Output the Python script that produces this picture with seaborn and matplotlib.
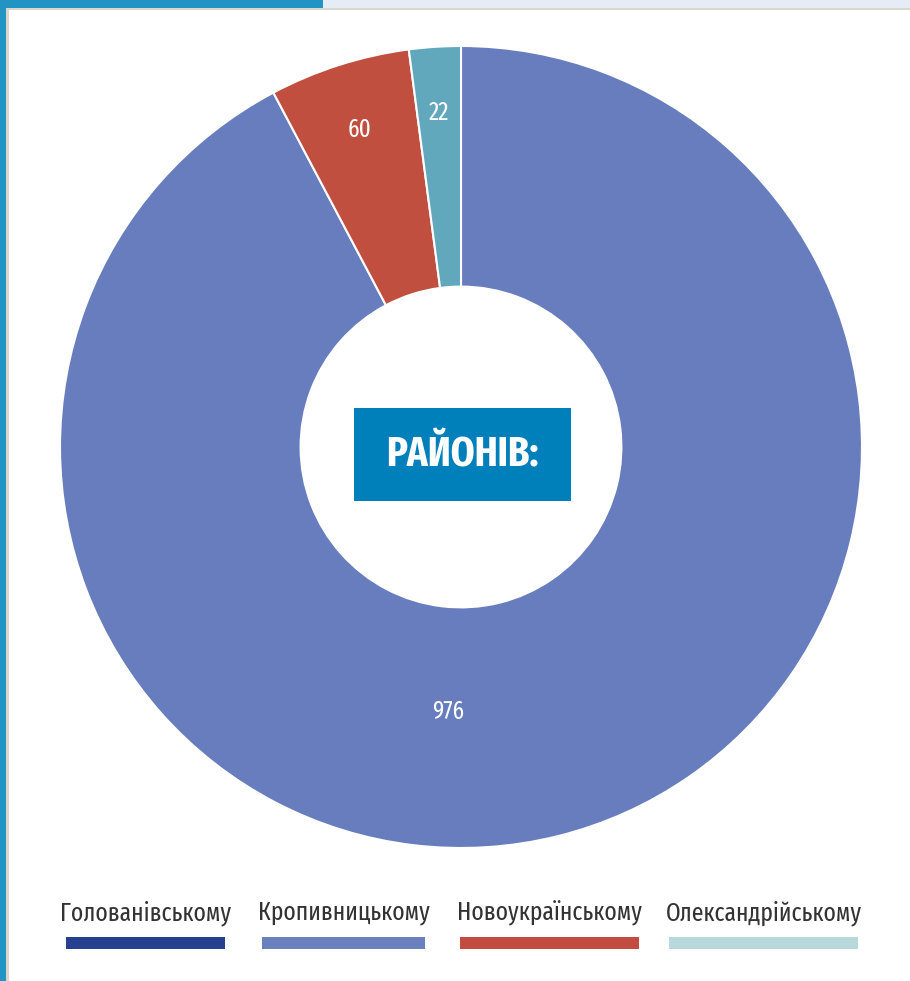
import numpy as np
import matplotlib
matplotlib.use("Agg")
import matplotlib.pyplot as plt
from matplotlib.patches import Rectangle
import seaborn as sns

districts = ["Голованівському", "Кропивницькому", "Новоукраїнському", "Олександрійському"]
values = [0, 976, 60, 22]
slice_colors = ["#26408f", "#687dbd", "#c14f3f", "#62a8bd"]
legend_colors = ["#26408f", "#6a80bd", "#c14c3f", "#b8d9dc"]
label_angles = [None, -92.8, None, None]  # degrees; None -> wedge middle
center_title = "РАЙОНІВ:"

sns.set_theme(style="white")
FONT = ['Fira Sans Extra Condensed', 'Roboto Condensed', 'DejaVu Sans']
plt.rcParams['font.family'] = FONT

W, H = 910, 981
fig = plt.figure(figsize=(W / 100, H / 100), dpi=100)
fig.patch.set_facecolor("white")

def px_rect(x0, y0, x1, y1, color, z=0):
    fig.patches.append(Rectangle((x0 / W, 1 - y1 / H), (x1 - x0) / W, (y1 - y0) / H,
                                 transform=fig.transFigure, facecolor=color,
                                 edgecolor="none", zorder=z))

# frame decorations
px_rect(323, 0, W, 8, "#e5ecf5")
px_rect(0, 0, 323, 8, "#2294c4")
px_rect(6, 8, W, 10, "#d9d6cc")
px_rect(6, 8, 9, H, "#d9d6cc")
px_rect(0, 0, 6, H, "#2294c4")

cx, cy, R = 461, 447, 401
ax = fig.add_axes([(cx - R) / W, 1 - (cy + R) / H, 2 * R / W, 2 * R / H])
wedges, _ = ax.pie(values, colors=slice_colors, startangle=90, counterclock=False,
                   radius=1.0, wedgeprops=dict(width=0.6, edgecolor="white", linewidth=1.5))
ax.set_xlim(-1, 1)
ax.set_ylim(-1, 1)
ax.set_aspect("auto")
ax.axis("off")

label_r = [0.83, 0.66, 0.83, 0.835]
for w, v, ang, r in zip(wedges, values, label_angles, label_r):
    if v == 0:
        continue
    a = np.deg2rad(ang if ang is not None else (w.theta1 + w.theta2) / 2)
    ax.text(r * np.cos(a), r * np.sin(a), str(v), ha="center", va="center",
            color="white", fontsize=18)

# center box
px_rect(354, 408, 571, 501, "#0080bb", z=5)
fig.text(462.5 / W, 1 - 455 / H, center_title, ha="center", va="center",
         color="white", fontsize=30, fontweight="bold", zorder=6)

# legend
bars = [(66, 225), (262, 425), (460, 639), (669, 858)]
for name, col, (x0, x1) in zip(districts, legend_colors, bars):
    fig.text((x0 + x1) / 2 / W, 1 - 913 / H, name, ha="center", va="center",
             color="#333333", fontsize=18.5)
    px_rect(x0, 937, x1, 949, col)

fig.savefig("out.png", dpi=100)
